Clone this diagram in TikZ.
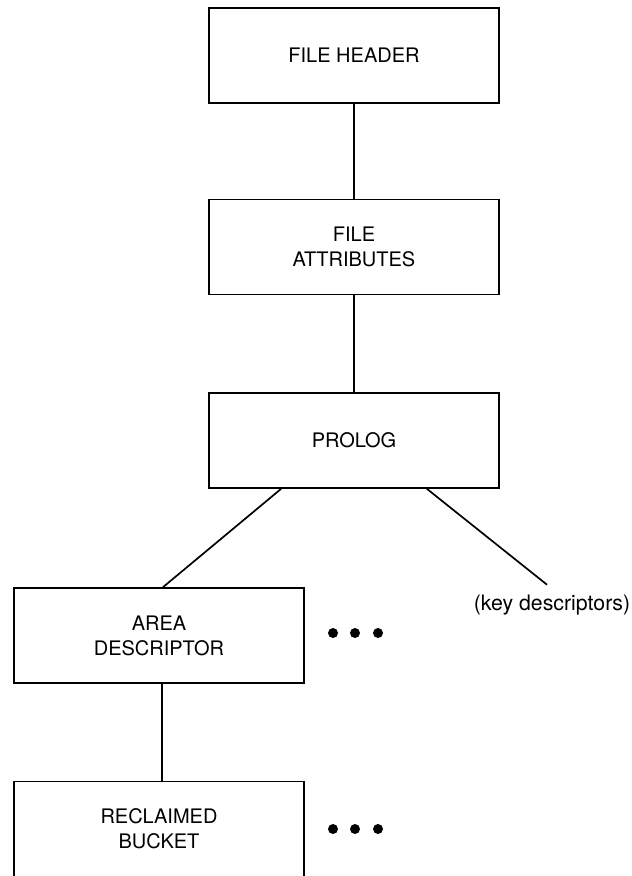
\documentclass[tikz,border=0pt]{standalone}
\usepackage{fontspec}
\setmainfont{TeX Gyre Heros}
\usetikzlibrary{calc}

\begin{document}
\begin{tikzpicture}[x=1pt, y=-1pt, align=center,
    block/.style={draw, line width=1.7pt, minimum width=290pt, minimum height=95pt,
                  font=\fontsize{20}{25}\selectfont},
    link/.style={line width=1.7pt}]
     \useasboundingbox (0,0) rectangle (632,876);

     \node[block] (header) at (354,55.5) {FILE HEADER};
     \node[block] (attrib) at (354,247) {FILE\\ATTRIBUTES};
     \node[block] (prolog) at (354,440.5) {PROLOG};
     \node[block] (area) at (159,635.5) {AREA\\DESCRIPTOR};
     \node[block] (bucket) at (159,829) {RECLAIMED\\BUCKET};
     \node[inner sep=10pt, font=\fontsize{21.3}{25}\selectfont] (keys) at (552,605) {(key descriptors)};

     \draw[link] (header.south) -- (attrib.north);
     \draw[link] (attrib.south) -- (prolog.north);
     \draw[link] ($(prolog.south west)!0.25!(prolog.south east)$) -- ([xshift=4pt]area.north);
     \draw[link] ($(prolog.south west)!0.75!(prolog.south east)$) -- ([xshift=-5pt]keys.north);
     \draw[link] ([xshift=3pt]area.south) -- ([xshift=3pt]bucket.north);

     % dots
     \foreach \x in {333,355,378} {
       \fill (\x,633) circle (5pt);
       \fill (\x,829) circle (5pt);
     }
\end{tikzpicture}
\end{document}
